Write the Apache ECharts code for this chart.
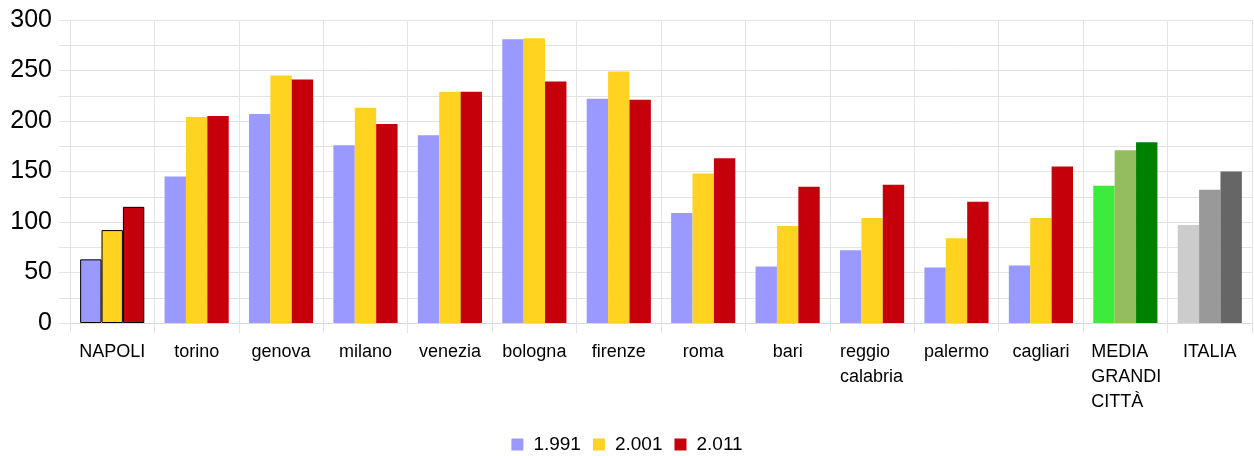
<!DOCTYPE html>
<html>
<head>
<meta charset="utf-8">
<script src="https://cdn.jsdelivr.net/npm/echarts@6/dist/echarts.min.js"></script>
<style>html,body{margin:0;padding:0;background:#fff;}#c{width:1254px;height:456px;}</style>
</head>
<body>
<div id="c"></div>
<script>
const categories = ['NAPOLI', 'torino', 'genova', 'milano', 'venezia', 'bologna', 'firenze', 'roma', 'bari', 'reggio\ncalabria', 'palermo', 'cagliari', 'MEDIA\nGRANDI\nCITTÀ', 'ITALIA'];
const seriesNames = ['1.991', '2.001', '2.011'];
const v1991 = [63, 145, 207, 176, 186, 281, 222, 109, 56, 72, 55, 57, 136, 97];
const v2001 = [92, 204, 245, 213, 229, 282, 249, 148, 96, 104, 84, 104, 171, 132];
const v2011 = [115, 205, 241, 197, 229, 239, 221, 163, 135, 137, 120, 155, 179, 150];
const yTicks = [0, 50, 100, 150, 200, 250, 300];

const baseColors = ['#9999ff', '#ffd320', '#c5000b'];
const mediaColors = ['#3deb3d', '#94bd5e', '#008000'];
const italiaColors = ['#cccccc', '#999999', '#666666'];

function buildData(values, si) {
  return values.map((v, i) => {
    const item = { value: v };
    if (i === 0) item.itemStyle = { borderColor: '#000', borderWidth: 1 };
    if (i === 12) item.itemStyle = { color: mediaColors[si] };
    if (i === 13) item.itemStyle = { color: italiaColors[si] };
    return item;
  });
}

const chart = echarts.init(document.getElementById('c'));
const font = '"Liberation Sans", Arial, sans-serif';
chart.setOption({
  animation: false,
  textStyle: { fontFamily: font },
  grid: { left: 70, right: 2, top: 20, bottom: 133, containLabel: false },
  legend: {
    data: seriesNames,
    top: 430,
    left: 'center',
    itemWidth: 12,
    itemHeight: 12,
    itemGap: 12,
    icon: 'rect',
    textStyle: { fontSize: 19, color: '#000', fontFamily: font, padding: [0, 0, 0, 5] }
  },
  xAxis: {
    type: 'category',
    data: categories,
    axisLine: { show: true, lineStyle: { color: '#d9d9d9', width: 1 } },
    axisTick: { show: true, length: 10, lineStyle: { color: '#e3e3e3' } },
    splitLine: { show: true, lineStyle: { color: '#e3e3e3' } },
    axisLabel: {
      interval: 0,
      margin: 17,
      fontSize: 18,
      lineHeight: 25,
      color: '#000',
      fontFamily: font,
      formatter: function (v) {
        if (v.indexOf('\n') < 0) return v;
        const key = v.indexOf('MEDIA') === 0 ? 'w3' : 'w2';
        return v.split('\n').map(s => '{' + key + '|' + s + '}').join('\n');
      },
      rich: {
        w2: { width: 64, align: 'left', fontSize: 18, lineHeight: 25, color: '#000', fontFamily: font },
        w3: { width: 68, align: 'left', fontSize: 18, lineHeight: 25, color: '#000', fontFamily: font }
      }
    }
  },
  yAxis: {
    type: 'value',
    min: 0,
    max: 300,
    interval: 25,
    axisLine: { show: false },
    axisTick: { show: true, length: 11, lineStyle: { color: '#e3e3e3' } },
    splitLine: { show: true, lineStyle: { color: '#e3e3e3' } },
    axisLabel: {
      margin: 18,
      fontSize: 25,
      color: '#000',
      fontFamily: font,
      formatter: function (v) { return yTicks.indexOf(v) >= 0 ? String(v) : ''; }
    }
  },
  series: [v1991, v2001, v2011].map((vals, si) => ({
    name: seriesNames[si],
    type: 'bar',
    data: buildData(vals, si),
    itemStyle: { color: baseColors[si] },
    barGap: '0%',
    barCategoryGap: '24%'
  }))
});
</script>
</body>
</html>
